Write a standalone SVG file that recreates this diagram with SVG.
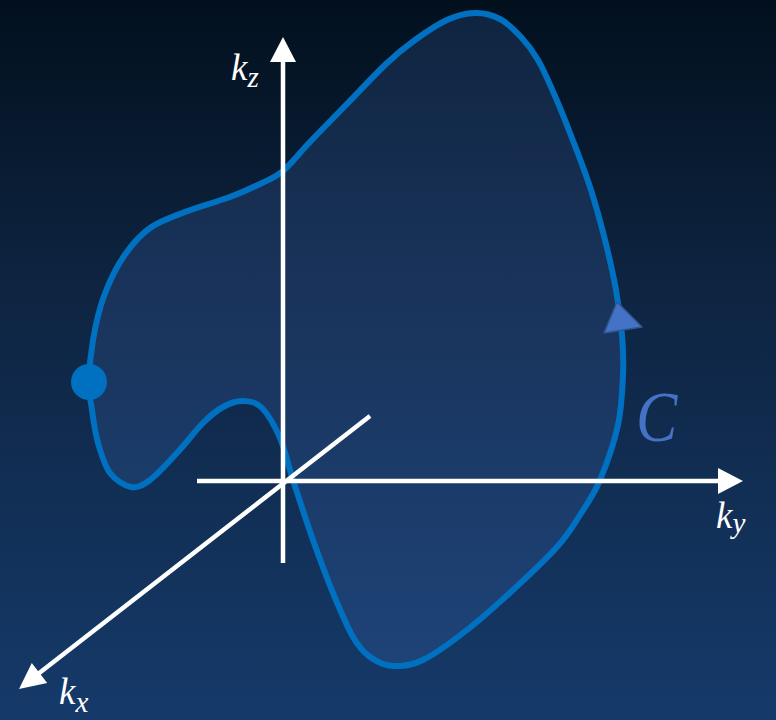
<svg xmlns="http://www.w3.org/2000/svg" width="776" height="720" viewBox="0 0 776 720">
  <defs>
    <linearGradient id="bg" x1="0" y1="0" x2="0" y2="1">
      <stop offset="0" stop-color="#02101e"/>
      <stop offset="0.4" stop-color="#0e2441"/>
      <stop offset="1" stop-color="#153a6a"/>
    </linearGradient>
    <path id="loop" d="M89,382 C89.2,370.3 90.5,354.3 93,340 C95.5,325.7 98.8,310 104,296 C109.2,282 116.3,267.3 124,256 C131.7,244.7 139.8,235.3 150,228 C160.2,220.7 171.7,217.2 185,212 C198.3,206.8 217.2,201.8 230,197 C242.8,192.2 253.2,187.3 262,183 C270.8,178.7 275,177.8 283,171 C291,164.2 299.3,153.2 310,142 C320.7,130.8 334.3,117 347,104 C359.7,91 374.7,74.7 386,64 C397.3,53.3 404.8,47.3 415,40 C425.2,32.7 437,24.5 447,20 C457,15.5 466.2,13.2 475,13 C483.8,12.8 492.3,15 500,19 C507.7,23 514.7,30.2 521,37 C527.3,43.8 532.3,50.2 538,60 C543.7,69.8 549.7,83.8 555,96 C560.3,108.2 564.2,117.8 570,133 C575.8,148.2 584.2,169.2 590,187 C595.8,204.8 600.7,222.8 605,240 C609.3,257.2 613.2,274.2 616,290 C618.8,305.8 620.8,320.8 622,335 C623.2,349.2 623.7,360 623,375 C622.3,390 621.8,407.5 618,425 C614.2,442.5 606.3,465 600,480 C593.7,495 587.2,503.8 580,515 C572.8,526.2 568.2,534.5 557,547 C545.8,559.5 528,576.2 513,590 C498,603.8 482,618.3 467,630 C452,641.7 435.3,654 423,660 C410.7,666 401.8,666.5 393,666 C384.2,665.5 376.7,661.8 370,657 C363.3,652.2 359.2,647.7 353,637 C346.8,626.3 339.7,609.2 333,593 C326.3,576.8 319.7,558.8 313,540 C306.3,521.2 298.5,497 293,480 C287.5,463 285.2,450 280,438 C274.8,426 268.2,414.2 262,408 C255.8,401.8 249.5,401.2 243,401 C236.5,400.8 229.7,403.3 223,407 C216.3,410.7 210.7,415.3 203,423 C195.3,430.7 185.8,443.5 177,453 C168.2,462.5 157.7,474.3 150,480 C142.3,485.7 137.7,488.2 131,487 C124.3,485.8 115.5,480.3 110,473 C104.5,465.7 101,453.5 98,443 C95,432.5 93.5,420.2 92,410 C90.5,399.8 88.8,393.7 89,382 Z"/>
  </defs>
  <style>
    .axis { stroke: #ffffff; stroke-width: 4.5; fill: none; }
    .head { fill: #ffffff; }
    .lbl { font-family: "Liberation Serif", "DejaVu Serif", serif; font-style: italic; fill: #ffffff; }
  </style>
  <rect x="0" y="0" width="776" height="720" fill="url(#bg)"/>

  <g id="contour">
    <use href="#loop" transform="translate(-1,-1.5)" fill="#4472c4" fill-opacity="0.2" stroke="#2f5597" stroke-width="2"/>
    <use href="#loop" fill="none" stroke="#0070c0" stroke-width="6" stroke-linejoin="round"/>
    <circle id="start-point" cx="89" cy="382" r="18" fill="#0070c0"/>
    <polygon id="direction-arrow" points="617,302 642,327 604,333" fill="#4472c4" stroke="#2f5597" stroke-width="1.5" stroke-linejoin="round"/>
  </g>

  <g id="axes">
    <g id="axis-z">
      <line class="axis" x1="283" y1="563" x2="283" y2="58"/>
      <polygon class="head" points="283,37 296,62 270,62"/>
    </g>
    <g id="axis-y">
      <line class="axis" x1="197" y1="481" x2="722" y2="481"/>
      <polygon class="head" points="743,481 718,468 718,494"/>
    </g>
    <g id="axis-x">
      <line class="axis" x1="370" y1="416" x2="38" y2="674"/>
      <polygon class="head" points="19,689 47.2,682.9 31.8,663.1"/>
    </g>
  </g>

  <g id="labels">
    <text class="lbl" x="231" y="80" font-size="37">k<tspan font-size="29" dx="0" dy="7">z</tspan></text>
    <text class="lbl" x="716" y="528" font-size="37">k<tspan font-size="29" dx="0" dy="5">y</tspan></text>
    <text class="lbl" x="59" y="704" font-size="37">k<tspan font-size="29" dx="0" dy="8">x</tspan></text>
    <text class="lbl" transform="translate(636,441) scale(0.86,1)" x="0" y="0" font-size="72" style="fill:#4472c4">C</text>
  </g>
</svg>
